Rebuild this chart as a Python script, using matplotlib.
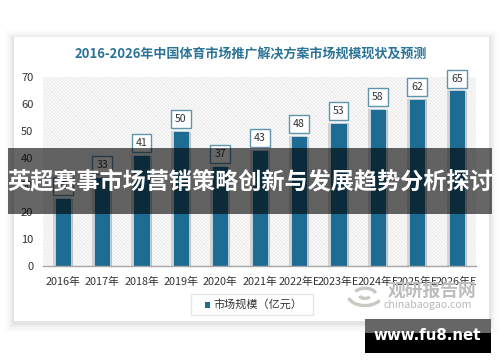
import matplotlib
matplotlib.use('Agg')
import matplotlib.pyplot as plt
import matplotlib.patheffects as pe
from matplotlib.patches import Rectangle, Arc

plt.rcParams['font.family'] = ['Noto Sans CJK SC', 'DejaVu Sans']
plt.rcParams['hatch.linewidth'] = 0.5
plt.rcParams['hatch.color'] = '#dcdcdc'

years = ['2016年', '2017年', '2018年', '2019年', '2020年', '2021年',
         '2022年E', '2023年E', '2024年E', '2025年E', '2026年E']
values = [25, 33, 41, 50, 37, 43, 48, 53, 58, 62, 65]
yticks = [0, 10, 20, 30, 40, 50, 60, 70]
title = '2016-2026年中国体育市场推广解决方案市场规模现状及预测'
legend_label = '市场规模（亿元）'
banner = '英超赛事市场营销策略创新与发展趋势分析探讨'
site = 'www.fu8.net'

W, H = 500, 362
fig = plt.figure(figsize=(W / 100, H / 100), dpi=100, facecolor='white')

# page level stuff, in pixels
bg = fig.add_axes([0, 0, 1, 1], zorder=0)
bg.set_xlim(0, W)
bg.set_ylim(H, 0)
bg.axis('off')
for grow, a in [(9, 0.015), (6, 0.02), (4, 0.03), (2, 0.04)]:
    bg.add_patch(Rectangle((14 - grow, 37 - grow + 2), 475 + 2 * grow, 284 + 2 * grow,
                           fc='black', ec='none', alpha=a))
bg.add_patch(Rectangle((14, 37), 475, 284, fc='white', ec='none'))

bg.text(251, 54, title, ha='center', va='center', fontsize=9.4, color='#2b7498', fontweight='semibold')

# chart
ax = fig.add_axes([43 / W, (H - 265.5) / H, 433 / W, 188.5 / H], zorder=1)
ax.set_facecolor('#fbfbfb')
ax.patch.set_hatch('\\\\\\\\\\\\\\\\\\\\')
ax.patch.set_edgecolor('#e2e2e2')
x = list(range(len(years)))
bars = ax.bar(x, values, width=0.41, color='#1c6c93', edgecolor='#dfe9ee', linewidth=0.5, zorder=2)
for b in bars:
    b.set_path_effects([pe.SimplePatchShadow(offset=(1.5, -0.5), shadow_rgbFace='#8f8f8f', alpha=0.5),
                        pe.SimplePatchShadow(offset=(-1.5, 0), shadow_rgbFace='#b5b5b5', alpha=0.5),
                        pe.Normal()])
for i, v in enumerate(values):
    ax.annotate(str(v), (i, v), xytext=(0, 8.6), textcoords='offset points', ha='center', va='center',
                fontsize=7.6, color='#333333', zorder=3,
                bbox=dict(boxstyle='square,pad=0.38', fc='white', ec='#5f94ad', lw=1))
ax.set_xlim(-0.5, 10.49)
ax.set_ylim(0, 70)
ax.set_xticks(x)
ax.set_xticklabels(years, fontsize=7.8, color='#333333')
ax.set_yticks(yticks)
ax.set_yticklabels([str(t) for t in yticks], fontsize=8, color='#333333')
ax.tick_params(length=0)
ax.tick_params(axis='x', pad=8)
ax.tick_params(axis='y', pad=7)
for s in ['top', 'left', 'right']:
    ax.spines[s].set_visible(False)
ax.spines['bottom'].set_color('#a6a6a6')
ax.spines['bottom'].set_linewidth(1)

# legend, watermark, banner
top = fig.add_axes([0, 0, 1, 1], zorder=2)
top.set_xlim(0, W)
top.set_ylim(H, 0)
top.axis('off')
top.patch.set_alpha(0)
top.add_patch(Rectangle((191, 294), 122, 21, fc='white', ec='#e6e6e6', lw=1))
top.add_patch(Rectangle((205, 302), 5, 6, fc='#1c6c93', ec='none'))
top.text(213, 304.5, legend_label, ha='left', va='center', fontsize=8, color='#333333')

for (w, t1, t2) in [(34, 20, 170), (22, 200, 350), (11, 20, 170)]:
    top.add_patch(Arc((365, 295), w, w * 0.62, theta1=t1, theta2=t2, color='#c9c9c4', lw=2.4))
top.text(388, 290.5, '观研报告网', ha='left', va='center', fontsize=12.8, color='#bdbdbd', fontweight='bold')
top.text(384, 305.5, 'chinabaogao.com', ha='left', va='center', fontsize=7.6, color='#b8b8b8')

top.add_patch(Rectangle((8, 148), 484, 66, fc='black', ec='none', alpha=0.6))
top.text(250, 182, banner, ha='center', va='center', fontsize=16.7, color='white', fontweight='bold')
top.add_patch(Rectangle((365, 319), 126, 34, fc='black', ec='none'))
top.add_patch(Rectangle((365, 319), 126, 14, fc='#666666', ec='none'))
top.text(427, 336, site, ha='center', va='center', fontsize=10.8, color='white', fontweight='bold',
         family=['DejaVu Sans'])

fig.savefig('out.png', dpi=100)
